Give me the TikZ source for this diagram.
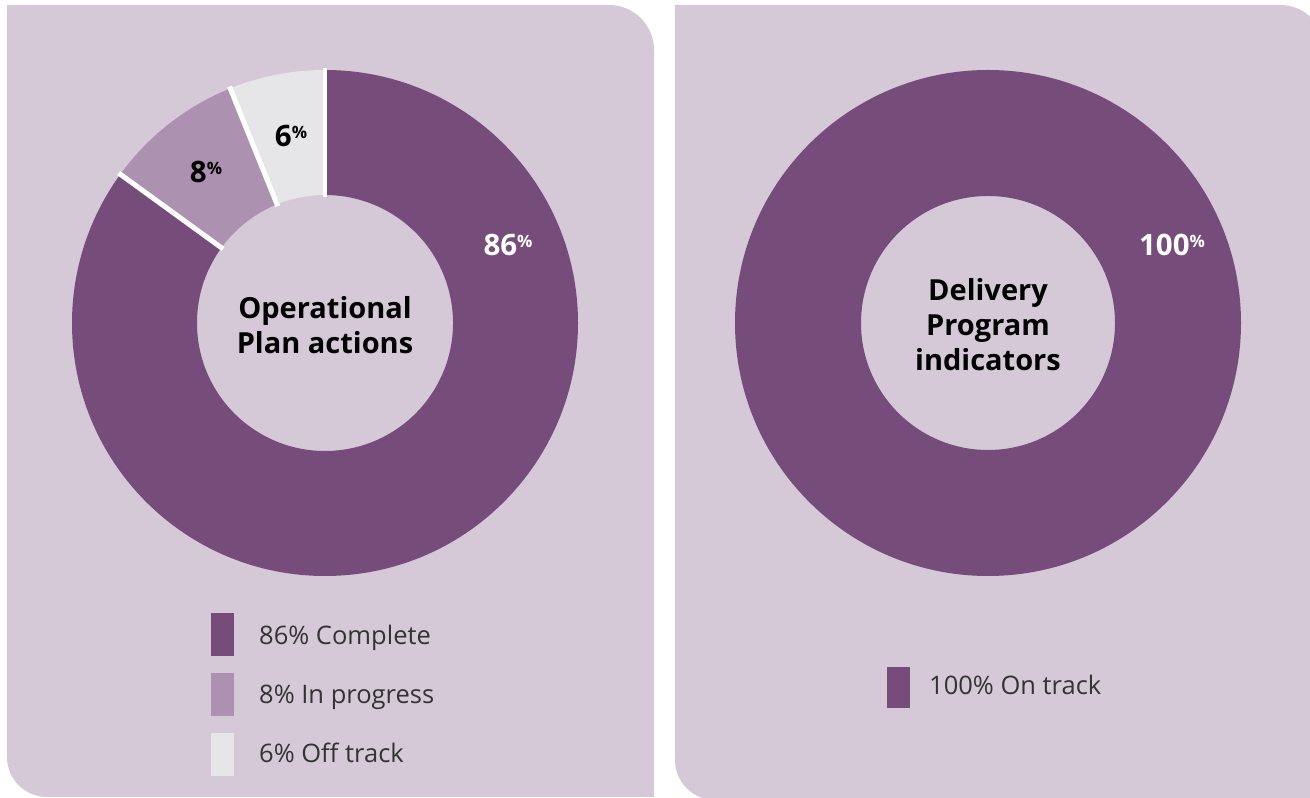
\documentclass[tikz,border=0pt]{standalone}
\usepackage{fontspec}
\setmainfont{Open Sans}
\definecolor{panel}{HTML}{D5C9D8}
\definecolor{dark}{HTML}{764C7A}
\definecolor{mid}{HTML}{AD91B0}
\definecolor{pale}{HTML}{E6E6E8}
\definecolor{txt}{HTML}{333333}
\tikzset{
  pct/.style={font=\fontsize{29.5}{31}\selectfont\bfseries, inner sep=0pt},
  title/.style={font=\fontsize{29}{35}\selectfont\bfseries, align=center, text=black, inner sep=0pt},
  legtext/.style={font=\fontsize{25.5}{28}\selectfont, text=txt, anchor=base west, inner sep=0pt},
  gap/.style={white, line width=5pt},
}
\newcommand{\pc}{\raisebox{8pt}{\fontsize{17}{18}\selectfont\%}}
\begin{document}
\begin{tikzpicture}[x=1pt,y=1pt]
\useasboundingbox (0,0) rectangle (1310,798);
\fill[white] (0,0) rectangle (1310,798);
% panels
\fill[panel] (7,793) -- (609,793) arc (90:0:45) -- (654,1) -- (47,1) arc (270:180:40) -- cycle;
\fill[panel] (675,793) -- (1280,793) arc (90:0:45) -- (1325,-2) -- (715,-2) arc (270:180:40) -- cycle;
% left donut
\begin{scope}[shift={(325,475)}]
  \fill[dark] (90:253) arc (90:-216:253) -- (-216:128) arc (-216:90:128) -- cycle;
  \fill[mid] (144:253) arc (144:112:253) -- (112:128) arc (112:144:128) -- cycle;
  \fill[pale] (112:253) arc (112:90:253) -- (90:128) arc (90:112:128) -- cycle;
  \draw[gap] (144:126) -- (144:255);
  \draw[gap] (112:126) -- (112:255);
  \draw[gap, line width=4pt] (90:126) -- (90:255);
\end{scope}
\node[title] (t1) at (325,473) {Operational\\Plan actions};
\node[pct, text=white] (p86) at (508,553) {86\pc};
\node[pct, text=black] (p8) at (206,626) {8\pc};
\node[pct, text=black] (p6) at (291,662) {6\pc};
% right donut
\begin{scope}[shift={(988,475)}]
  \fill[dark, even odd rule] (0,0) circle (253) (0,0) circle (127);
\end{scope}
\node[title] (t2) at (988,473) {Delivery\\Program\\indicators};
\node[pct, text=white] (p100) at (1172,553) {100\pc};
% legends
\fill[dark] (211,142) rectangle (234,185);
\fill[mid] (211,82) rectangle (234,125);
\fill[pale] (211,22) rectangle (234,65);
\node[legtext] (l1) at (259,153) {86\% Complete};
\node[legtext] (l2) at (259,94) {8\% In progress};
\node[legtext] (l3) at (259,35) {6\% Off track};
\fill[dark] (887,90) rectangle (910,131);
\node[legtext] (l4) at (929,103) {100\% On track};
\end{tikzpicture}
\end{document}
